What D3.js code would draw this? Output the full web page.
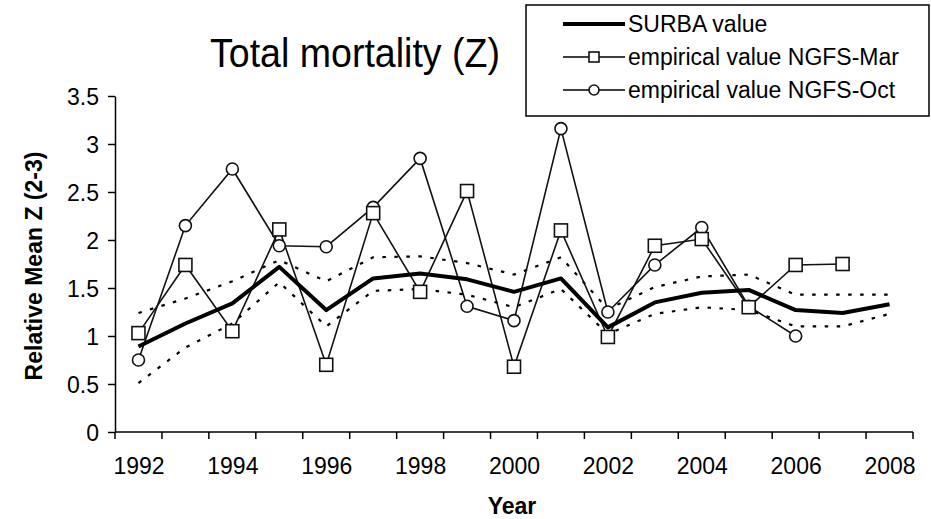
<!DOCTYPE html>
<html>
<head>
<meta charset="utf-8">
<script src="https://cdn.jsdelivr.net/npm/d3@7"></script>
<style>
  body { margin: 0; background: #fff; }
  svg { display: block; }
  text { font-family: "Liberation Sans", Arial, sans-serif; fill: #000; }
</style>
</head>
<body>
<script>
const width = 931;
const height = 519;

// data
const years = [1992, 1993, 1994, 1995, 1996, 1997, 1998, 1999, 2000, 2001, 2002, 2003, 2004, 2005, 2006, 2007, 2008];
const surba = [0.89, 1.13, 1.34, 1.72, 1.27, 1.60, 1.65, 1.59, 1.46, 1.60, 1.09, 1.35, 1.45, 1.48, 1.27, 1.24, 1.33];
const surbaUpper = [1.24, 1.39, 1.57, 1.79, 1.57, 1.82, 1.83, 1.76, 1.64, 1.82, 1.28, 1.51, 1.62, 1.64, 1.43, 1.43, 1.43];
const surbaLower = [0.51, 0.88, 1.13, 1.56, 1.10, 1.47, 1.49, 1.43, 1.30, 1.49, 1.02, 1.23, 1.30, 1.27, 1.10, 1.10, 1.23];
const ngfsMar = [1.03, 1.74, 1.05, 2.11, 0.70, 2.28, 1.46, 2.51, 0.68, 2.10, 0.99, 1.94, 2.01, 1.30, 1.74, 1.75, null];
const ngfsOct = [0.75, 2.15, 2.74, 1.94, 1.93, 2.34, 2.85, 1.31, 1.16, 3.16, 1.25, 1.74, 2.13, 1.31, 1.00, null, null];
const yTicks = [0, 0.5, 1, 1.5, 2, 2.5, 3, 3.5];
const xLabels = [1992, 1994, 1996, 1998, 2000, 2002, 2004, 2006, 2008];
const legendLabels = ['SURBA value', 'empirical value NGFS-Mar', 'empirical value NGFS-Oct'];

const plot = { left: 115, right: 913, top: 96, bottom: 432 };

const svg = d3.select('body').append('svg').attr('width', width).attr('height', height);

const x = d3.scalePoint().domain(years).range([plot.left, plot.right]).padding(0.5);
const xBand = d3.scaleBand().domain(years).range([plot.left, plot.right]);
const y = d3.scaleLinear().domain([0, 3.5]).range([plot.bottom, plot.top]);

// y axis
const yAxis = svg.append('g').attr('transform', `translate(${plot.left},0)`)
    .call(d3.axisLeft(y).tickValues(yTicks).tickFormat(d => d).tickSize(7).tickSizeOuter(0).tickPadding(9));
yAxis.selectAll('text').style('font-size', '23px').attr('dy', '0.36em');
yAxis.selectAll('line, path').attr('stroke', '#000').attr('stroke-width', 1.5);

// x axis: labels at category centres, ticks at category edges
const xAxis = svg.append('g').attr('transform', `translate(0,${plot.bottom})`)
    .call(d3.axisBottom(x).tickValues(xLabels).tickSize(0).tickSizeOuter(0).tickPadding(26));
xAxis.select('.domain').remove();
xAxis.selectAll('text').style('font-size', '23px');
const edges = years.map(d => xBand(d)).concat([plot.right]);
xAxis.selectAll('line.edge').data(edges).enter().append('line').classed('edge', true)
    .attr('x1', d => d).attr('x2', d => d).attr('y1', 0).attr('y2', 7)
    .attr('stroke', '#000').attr('stroke-width', 1.5);
xAxis.append('line').attr('x1', plot.left).attr('x2', plot.right).attr('y1', 0).attr('y2', 0)
    .attr('stroke', '#000').attr('stroke-width', 1.5);

// axis titles
svg.append('text')
    .attr('transform', `translate(42,266) rotate(-90)`)
    .attr('text-anchor', 'middle')
    .style('font-size', '23px').style('font-weight', 'bold')
    .text('Relative Mean Z (2-3)');
svg.append('text')
    .attr('x', 512).attr('y', 514)
    .attr('text-anchor', 'middle')
    .style('font-size', '23px').style('font-weight', 'bold')
    .text('Year');

// lines
const line = values => d3.line()
    .defined(d => values[years.indexOf(d)] != null)
    .x(d => x(d))
    .y(d => y(values[years.indexOf(d)]))(years);

svg.append('path').attr('d', line(surbaUpper)).attr('fill', 'none')
    .attr('stroke', '#000').attr('stroke-width', 2.2).attr('stroke-dasharray', '3.5,8.5');
svg.append('path').attr('d', line(surbaLower)).attr('fill', 'none')
    .attr('stroke', '#000').attr('stroke-width', 2.2).attr('stroke-dasharray', '3.5,8.5');

svg.append('path').attr('d', line(ngfsMar)).attr('fill', 'none')
    .attr('stroke', '#111').attr('stroke-width', 1.6);
svg.append('path').attr('d', line(ngfsOct)).attr('fill', 'none')
    .attr('stroke', '#111').attr('stroke-width', 1.6);

svg.append('path').attr('d', line(surba)).attr('fill', 'none')
    .attr('stroke', '#000').attr('stroke-width', 4).attr('stroke-linejoin', 'round');

// markers (Oct first, Mar squares drawn on top)
const octPts = years.filter((d, i) => ngfsOct[i] != null);
svg.selectAll('circle.oct').data(octPts).enter().append('circle').classed('oct', true)
    .attr('cx', d => x(d)).attr('cy', d => y(ngfsOct[years.indexOf(d)]))
    .attr('r', 6)
    .attr('fill', '#fff').attr('stroke', '#111').attr('stroke-width', 1.6);

const marPts = years.filter((d, i) => ngfsMar[i] != null);
svg.selectAll('rect.mar').data(marPts).enter().append('rect').classed('mar', true)
    .attr('x', d => x(d) - 6.5).attr('y', d => y(ngfsMar[years.indexOf(d)]) - 6.5)
    .attr('width', 13).attr('height', 13)
    .attr('fill', '#fff').attr('stroke', '#111').attr('stroke-width', 1.6);

// title
svg.append('text')
    .attr('x', 210).attr('y', 67)
    .attr('textLength', 290).attr('lengthAdjust', 'spacingAndGlyphs')
    .style('font-family', '"Liberation Sans Narrow", "Arial Narrow", "Liberation Sans", Arial, sans-serif')
    .style('font-size', '40px')
    .text('Total mortality (Z)');

// legend
const legend = svg.append('g');
legend.append('rect').attr('x', 526).attr('y', 5).attr('width', 403).attr('height', 111)
    .attr('fill', '#fff').attr('stroke', '#000').attr('stroke-width', 1.5);
const rowY = [24, 57, 90];
legend.selectAll('line.key').data(legendLabels).enter().append('line').classed('key', true)
    .attr('x1', 563).attr('x2', 625).attr('y1', (d, i) => rowY[i]).attr('y2', (d, i) => rowY[i])
    .attr('stroke', '#000').attr('stroke-width', (d, i) => i === 0 ? 4 : 1.6);
legend.append('rect').attr('x', 589).attr('y', rowY[1] - 5).attr('width', 10).attr('height', 10)
    .attr('fill', '#fff').attr('stroke', '#111').attr('stroke-width', 1.6);
legend.append('circle').attr('cx', 594).attr('cy', rowY[2]).attr('r', 5)
    .attr('fill', '#fff').attr('stroke', '#111').attr('stroke-width', 1.6);
legend.selectAll('text').data(legendLabels).enter().append('text')
    .attr('x', 628).attr('y', (d, i) => rowY[i]).attr('dy', '0.36em')
    .style('font-size', '23px')
    .text(d => d);
</script>
</body>
</html>
